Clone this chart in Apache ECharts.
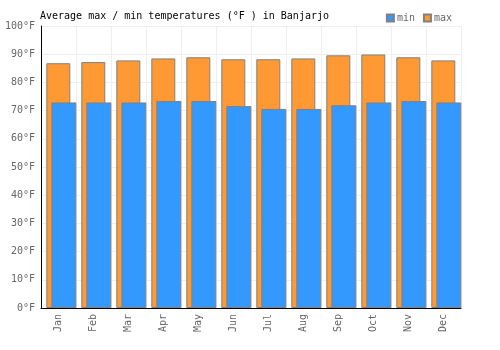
<!DOCTYPE html>
<html>
<head>
<meta charset="utf-8">
<script src="https://cdn.jsdelivr.net/npm/echarts@6/dist/echarts.min.js"></script>
<style>
  html, body { margin: 0; padding: 0; background: #fff; }
  #chart { width: 500px; height: 350px; }
</style>
</head>
<body>
<div id="chart"></div>
<script>
// 月份
const months = ['Jan', 'Feb', 'Mar', 'Apr', 'May', 'Jun', 'Jul', 'Aug', 'Sep', 'Oct', 'Nov', 'Dec'];
// 平均最高 / 最低气温 (°F)
const maxTemps = [86.8, 87.2, 87.8, 88.5, 88.9, 88.2, 88.2, 88.5, 89.6, 89.9, 88.9, 87.8];
const minTemps = [72.9, 72.9, 72.9, 73.4, 73.4, 71.6, 70.6, 70.6, 71.9, 72.9, 73.4, 72.9];

const font = 'DejaVu Sans Mono';
const chart = echarts.init(document.getElementById('chart'));

const option = {
    animation: false,
    title: {
        text: 'Average max / min temperatures (°F ) in Banjarjo',
        left: 35,
        top: 6,
        textStyle: { fontFamily: font, fontSize: 10, fontWeight: 'normal', color: '#000' }
    },
    legend: {
        data: ['min', 'max'],
        right: 43,
        top: 8,
        itemWidth: 7,
        itemHeight: 7,
        itemGap: 8,
        icon: 'rect',
        textStyle: { fontFamily: font, fontSize: 10, color: '#666', padding: [0, 0, 0, -2] }
    },
    grid: { left: 41, right: 39, top: 26, bottom: 42 },
    xAxis: {
        type: 'category',
        data: months,
        axisLine: { lineStyle: { color: '#000', width: 1 } },
        axisTick: { show: false },
        axisLabel: { rotate: 90, margin: 6, fontFamily: font, fontSize: 10, color: '#666' },
        splitLine: { show: true, lineStyle: { color: '#eeeeee' } }
    },
    yAxis: {
        type: 'value',
        min: 0,
        max: 100,
        interval: 10,
        axisLine: { show: true, lineStyle: { color: '#000', width: 1 } },
        axisTick: { show: false },
        axisLabel: { formatter: '{value}°F', margin: 6, fontFamily: font, fontSize: 10, color: '#666' },
        splitLine: { lineStyle: { color: '#eeeeee' } }
    },
    series: [
        {
            // 空占位系列，只用来把柱子整体往右挪
            name: 'spacer',
            type: 'bar',
            data: [],
            barWidth: 27,
            barGap: '-79%',
            silent: true
        },
        {
            name: 'max',
            type: 'bar',
            data: maxTemps,
            barWidth: 24,
            barGap: '-79%',
            itemStyle: { color: '#ff9933', borderColor: '#808080', borderWidth: 1 }
        },
        {
            name: 'min',
            type: 'bar',
            data: minTemps,
            barWidth: 25,
            barGap: '-79%',
            itemStyle: { color: '#3399ff', borderColor: '#808080', borderWidth: 1 }
        }
    ]
};

chart.setOption(option);
</script>
</body>
</html>
